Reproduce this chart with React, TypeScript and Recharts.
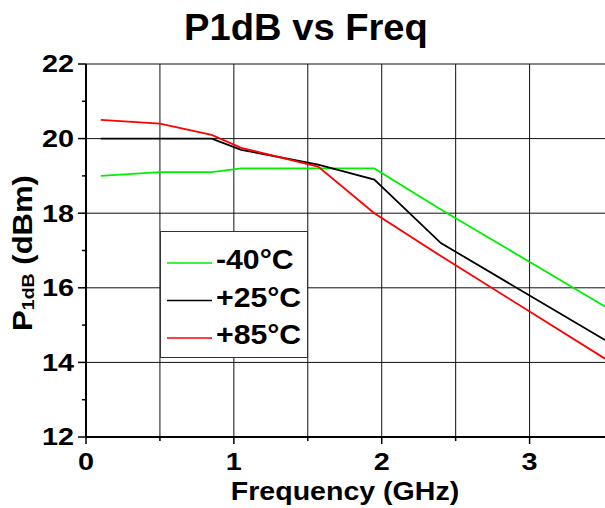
import React from "react";
import { LineChart, Line, XAxis, YAxis, CartesianGrid, Legend } from "recharts";

const freqGHz = [0.1, 0.5, 0.85, 1.05, 1.57, 1.95, 2.4, 3.51];
const m40 = [19.0, 19.1, 19.1, 19.2, 19.2, 19.2, 18.1, 15.5];
const p25 = [20.0, 20.0, 20.0, 19.7, 19.3, 18.9, 17.2, 14.6];
const p85 = [20.5, 20.4, 20.1, 19.75, 19.25, 18.0, 16.85, 14.1];

const xTicks = [0, 0.5, 1, 1.5, 2, 2.5, 3];
const yTicks = [12, 13, 14, 15, 16, 17, 18, 19, 20, 21, 22];
const yGrid = [14, 16, 18, 20, 22];

const series = [
  { key: "m40", name: "-40°C", color: "#00ee00" },
  { key: "p25", name: "+25°C", color: "#000000" },
  { key: "p85", name: "+85°C", color: "#ff0000" },
];

const data = freqGHz.map((f, i) => ({ f, m40: m40[i], p25: p25[i], p85: p85[i] }));

const FONT = "'Liberation Sans', Arial, Helvetica, sans-serif";

const YTick = (props: any) => {
  const { x, y, payload } = props;
  const v = payload.value;
  const major = v % 2 === 0;
  return (
    <g>
      <line x1={x} x2={x - (major ? 8 : 4)} y1={y} y2={y} stroke="#000" strokeWidth={1.5} />
      {major && (
        <text
          transform={`translate(${x - 12},${y + 8.4}) scale(1.2,1)`}
          textAnchor="end"
          fontFamily={FONT}
          fontWeight="bold"
          fontSize={24}
          fill="#000"
        >
          {v}
        </text>
      )}
    </g>
  );
};

const XTick = (props: any) => {
  const { x, y, payload } = props;
  const v = payload.value;
  const major = Number.isInteger(v);
  return (
    <g>
      <line x1={x} x2={x} y1={y} y2={y + (major ? 7 : 4)} stroke="#000" strokeWidth={1.5} />
      {major && (
        <text
          transform={`translate(${x},${y + 32.5}) scale(1.2,1)`}
          textAnchor="middle"
          fontFamily={FONT}
          fontWeight="bold"
          fontSize={24}
          fill="#000"
        >
          {v}
        </text>
      )}
    </g>
  );
};

const renderLegend = (props: any) => {
  const payload = props.payload || [];
  const entries = series.map((s) => {
    const p = payload.find((q: any) => q.dataKey === s.key);
    return { value: p ? p.value : s.name, color: p ? p.color : s.color };
  });
  return (
    <svg width={148} height={127} style={{ display: "block" }}>
      <rect x={0.5} y={0.5} width={147} height={126} fill="#fff" stroke="#333" strokeWidth={1} />
      {entries.map((p: any, i: number) => {
        const ry = 32 + i * 37.5;
        return (
          <g key={i}>
            <line x1={7} x2={52} y1={ry} y2={ry} stroke={p.color} strokeWidth={1.5} />
            <text
              transform={`translate(56,${ry + 6}) scale(1.08,1)`}
              fontFamily={FONT}
              fontWeight="bold"
              fontSize={28}
              fill="#000"
            >
              {p.value}
            </text>
          </g>
        );
      })}
    </svg>
  );
};

export default function App() {
  return (
    <div style={{ position: "absolute", left: 0, top: 0, width: 605, height: 508, background: "#fff" }}>
      <LineChart
        width={605}
        height={508}
        data={data}
        margin={{ top: 64, right: 0, bottom: 41, left: 26 }}
      >
        <CartesianGrid
          stroke="#111"
          strokeWidth={1}
          horizontalValues={yGrid}
          verticalValues={xTicks}
        />
        <XAxis
          type="number"
          dataKey="f"
          domain={[0, 3.51]}
          ticks={xTicks}
          interval={0}
          height={30}
          tickSize={0}
          tickMargin={0}
          tickLine={false}
          tick={<XTick />}
          axisLine={{ stroke: "#000", strokeWidth: 2 }}
          allowDataOverflow
        />
        <YAxis
          type="number"
          domain={[12, 22]}
          ticks={yTicks}
          interval={0}
          width={60}
          tickSize={0}
          tickMargin={0}
          tickLine={false}
          tick={<YTick />}
          axisLine={{ stroke: "#000", strokeWidth: 2 }}
          allowDataOverflow
        />
        {series.map((s) => (
          <Line
            key={s.key}
            type="linear"
            dataKey={s.key}
            name={s.name}
            stroke={s.color}
            strokeWidth={1.8}
            dot={false}
            isAnimationActive={false}
          />
        ))}
        <Legend
          layout="horizontal"
          verticalAlign="middle"
          align="center"
          wrapperStyle={{ left: 160, top: 231, width: 148, height: 127 }}
          content={renderLegend}
        />
        <text
          transform="translate(306,39.5) scale(1.06,1)"
          textAnchor="middle"
          fontFamily={FONT}
          fontWeight="bold"
          fontSize={36}
          fill="#000"
        >
          P1dB vs Freq
        </text>
        <text
          transform="translate(345,500) scale(1.12,1)"
          textAnchor="middle"
          fontFamily={FONT}
          fontWeight="bold"
          fontSize={25.5}
          fill="#000"
        >
          Frequency (GHz)
        </text>
        <text
          transform="translate(32,253) rotate(-90) scale(1.15,1)"
          textAnchor="middle"
          fontFamily={FONT}
          fontWeight="bold"
          fontSize={27}
          fill="#000"
        >
          P
          <tspan fontSize={17} dy={2}>1dB</tspan>
          <tspan fontSize={27} dy={-2}> (dBm)</tspan>
        </text>
      </LineChart>
    </div>
  );
}
